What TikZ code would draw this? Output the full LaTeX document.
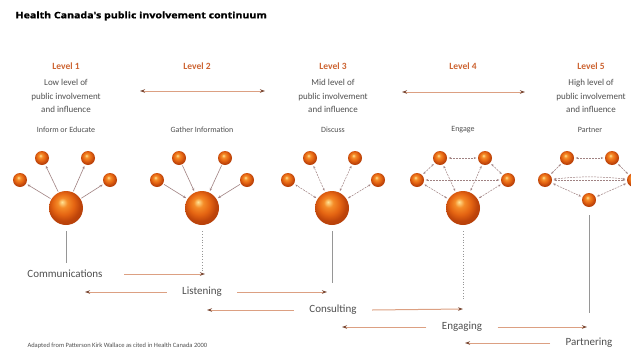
\documentclass[tikz,border=0pt]{standalone}
\usepackage{fontspec}
\setmainfont{Carlito}
\newfontfamily\titlefont[FakeStretch=1.18,FakeBold=1.2]{Open Sans}
\usetikzlibrary{arrows.meta}
\definecolor{lvlc}{RGB}{205,100,50}
\definecolor{txtc}{RGB}{80,80,80}
\definecolor{arrc}{RGB}{220,160,130}
\definecolor{headc}{RGB}{125,75,55}
\definecolor{linkc}{RGB}{160,130,130}
\definecolor{vlc}{RGB}{150,150,150}
\definecolor{bhi}{RGB}{255,228,150}
\definecolor{bmid}{RGB}{245,140,40}
\definecolor{bmain}{RGB}{228,100,18}
\definecolor{bedge}{RGB}{190,68,10}
\definecolor{bout}{RGB}{150,50,10}
\pgfdeclareradialshading{orangeball}{\pgfqpoint{-6bp}{9bp}}{%
  color(0bp)=(bhi); color(7bp)=(bmid); color(16bp)=(bmain); color(24bp)=(bedge); color(50bp)=(bout)}
\begin{document}
\begin{tikzpicture}[x=1pt,y=-1pt,
  lvl/.style={text=lvlc,font=\bfseries\fontsize{9.5}{11}\selectfont},
  desc/.style={text=txtc,font=\fontsize{9}{13.5}\selectfont,align=center},
  act/.style={text=txtc,font=\fontsize{8}{9}\selectfont},
  stage/.style={text=txtc,font=\fontsize{11}{13}\selectfont},
  bigball/.style={circle,inner sep=0pt,minimum size=34pt,shading=orangeball},
  smball/.style={circle,inner sep=0pt,minimum size=14pt,shading=orangeball},
  dbl/.style={draw=arrc,line width=0.9pt,{Stealth[color=headc,length=5pt,width=3.5pt]}-{Stealth[color=headc,length=5pt,width=3.5pt]}},
  flow/.style={draw=arrc,line width=1pt,-{Stealth[color=headc,length=5pt,width=3.5pt]}},
  outlink/.style={draw=linkc,line width=0.6pt,-{Stealth[length=3pt,width=2.5pt]},shorten <=1pt,shorten >=1.5pt},
  bothlink/.style={draw=linkc,line width=0.5pt,dash pattern=on 2pt off 1pt,{Stealth[length=2.5pt,width=2pt]}-{Stealth[length=2.5pt,width=2pt]},shorten <=1.5pt,shorten >=1.5pt},
  vsolid/.style={draw=vlc,line width=0.6pt},
  vdot/.style={draw=vlc,line width=0.8pt,dotted}
]
\useasboundingbox (0,0) rectangle (631,351);
\fill[white] (0,0) rectangle (631,351);

% title
\node[anchor=west,font=\titlefont\bfseries\fontsize{9}{10}\selectfont] (title) at (12,16) {Health Canada's public involvement continuum};

% level labels
\node[lvl] (l1) at (66,66) {Level 1};
\node[lvl] (l2) at (197,66) {Level 2};
\node[lvl] (l3) at (333,66) {Level 3};
\node[lvl] (l4) at (463,66) {Level 4};
\node[lvl] (l5) at (591,66) {Level 5};

\node[desc] (d1) at (66,96) {Low level of\\public involvement\\and influence};
\node[desc] (d3) at (333,96) {Mid level of\\public involvement\\and influence};
\node[desc] (d5) at (591,96) {High level of\\public involvement\\and influence};

\coordinate (a2l) at (140,91); \coordinate (a2r) at (265,91);
\coordinate (a4l) at (402,92); \coordinate (a4r) at (525,92);
\draw[dbl] (a2l) -- (a2r);
\draw[dbl] (a4l) -- (a4r);

\node[act] (e1) at (66,130) {Inform or Educate};
\node[act] (e2) at (202,130) {Gather Information};
\node[act] (e3) at (333,130) {Discuss};
\node[act] (e4) at (463,130) {Engage};
\node[act] (e5) at (590,130) {Partner};

% Level 1 spheres
\node[bigball] (B1) at (66,208) {};
\node[smball] (s1a) at (20,180) {};
\node[smball] (s1b) at (42,158) {};
\node[smball] (s1c) at (88,158) {};
\node[smball] (s1d) at (110,180) {};
\foreach \s in {s1a,s1b,s1c,s1d} \draw[outlink] (B1) -- (\s);

% Level 2 spheres
\node[bigball] (B2) at (202,208) {};
\node[smball] (s2a) at (157,180) {};
\node[smball] (s2b) at (179,158) {};
\node[smball] (s2c) at (225,158) {};
\node[smball] (s2d) at (247,180) {};
\foreach \s in {s2a,s2b,s2c,s2d} \draw[outlink] (\s) -- (B2);

% Level 3 spheres
\node[bigball] (B3) at (332,208) {};
\node[smball] (s3a) at (288,180) {};
\node[smball] (s3b) at (310,158) {};
\node[smball] (s3c) at (355,158) {};
\node[smball] (s3d) at (378,180) {};
\foreach \s in {s3a,s3b,s3c,s3d} \draw[bothlink] (B3) -- (\s);

% Level 4 spheres
\node[bigball] (B4) at (463,208) {};
\node[smball] (s4a) at (417,180) {};
\node[smball] (s4b) at (440,158) {};
\node[smball] (s4c) at (485,158) {};
\node[smball] (s4d) at (508,180) {};
\foreach \s in {s4a,s4b,s4c,s4d} \draw[bothlink] (B4) -- (\s);
\draw[bothlink] (s4b) -- (s4c);
\draw[bothlink] (s4a) -- (s4b);
\draw[bothlink] (s4c) -- (s4d);
\draw[bothlink] (s4a) -- (s4d);

% Level 5 spheres
\node[smball] (s5a) at (545,180) {};
\node[smball] (s5b) at (567,158) {};
\node[smball] (s5c) at (612,158) {};
\node[smball] (s5d) at (634,180) {};
\node[smball] (s5e) at (589,200) {};
\draw[bothlink] (s5b) -- (s5c);
\draw[bothlink] (s5a) -- (s5b);
\draw[bothlink] (s5c) -- (s5d);
\draw[bothlink] (s5a) -- (s5d);
\draw[bothlink] (s5a) to[bend left=6] (s5d);
\draw[bothlink] (s5a) -- (s5e);
\draw[bothlink] (s5e) -- (s5d);

% vertical lines
\coordinate (v1) at (66,263);
\coordinate (v2) at (202,272);
\coordinate (v3) at (332,283);
\coordinate (v4) at (463,300);
\coordinate (v5) at (589,313);
\draw[vsolid] ([yshift=-6pt]B1.south) -- (v1);
\draw[vdot] ([yshift=-6pt]B2.south) -- (v2);
\draw[vsolid] ([yshift=-6pt]B3.south) -- (v3);
\draw[vdot] ([yshift=-6pt]B4.south) -- (v4);
\draw[vsolid] ([yshift=-8pt]s5e.south) -- (v5);

% bottom stages
\node[stage] (comm) at (65,274) {Communications};
\node[stage] (list) at (202,292) {Listening};
\node[stage] (cons) at (333,310) {Consulting};
\node[stage] (enga) at (462,327) {Engaging};
\node[stage] (part) at (589,343) {Partnering};

\coordinate (c1) at (205,274);
\coordinate (c2l) at (85,292);  \coordinate (c2r) at (327,292);
\coordinate (c3l) at (207,310); \coordinate (c3r) at (463,309);
\coordinate (c4l) at (342,327); \coordinate (c4r) at (587,327);
\coordinate (c5l) at (465,343);

\draw[flow] ([xshift=18pt]comm.east) -- (c1);
\draw[flow] ([xshift=-12pt]list.west) -- (c2l);
\draw[flow] ([xshift=12pt]list.east) -- (c2r);
\draw[flow] ([xshift=-12pt]cons.west) -- (c3l);
\draw[flow] ([xshift=12pt]cons.east) -- (c3r);
\draw[flow] ([xshift=-12pt]enga.west) -- (c4l);
\draw[flow] ([xshift=12pt]enga.east) -- (c4r);
\draw[flow] ([xshift=-12pt]part.west) -- (c5l);

% footer
\node[anchor=west,text=txtc,font=\fontsize{6.5}{7}\selectfont] (foot) at (24,346) {Adapted from Patterson Kirk Wallace as cited in Health Canada 2000};
\end{tikzpicture}
\end{document}
